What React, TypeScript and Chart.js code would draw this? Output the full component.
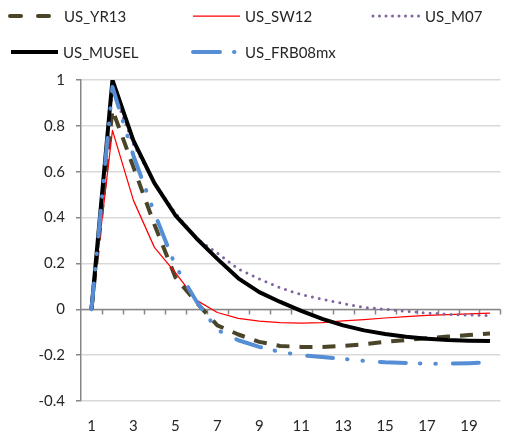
import React, { useEffect, useRef } from "react";
import { Chart, registerables } from "chart.js";

Chart.register(...registerables);

const categories = ["1","2","3","4","5","6","7","8","9","10","11","12","13","14","15","16","17","18","19","20"];
const usYR13 = [0, 0.87, 0.62, 0.37, 0.14, 0.03, -0.07, -0.11, -0.142, -0.16, -0.164, -0.164, -0.16, -0.152, -0.142, -0.134, -0.126, -0.119, -0.112, -0.106];
const usSW12 = [0, 0.78, 0.475, 0.27, 0.16, 0.04, -0.014, -0.04, -0.052, -0.058, -0.06, -0.058, -0.051, -0.045, -0.038, -0.032, -0.027, -0.023, -0.02, -0.017];
const usM07 = [0, 0.96, 0.72, 0.55, 0.42, 0.31, 0.245, 0.176, 0.132, 0.094, 0.064, 0.044, 0.025, 0.008, 0, -0.009, -0.016, -0.022, -0.025, -0.027];
const usMUSEL = [0, 1.0, 0.736, 0.55, 0.41, 0.31, 0.22, 0.135, 0.075, 0.032, -0.007, -0.042, -0.07, -0.092, -0.108, -0.12, -0.128, -0.134, -0.137, -0.138];
const usFRB08mx = [0, 0.97, 0.67, 0.42, 0.19, 0.035, -0.09, -0.135, -0.164, -0.186, -0.2, -0.208, -0.216, -0.225, -0.231, -0.234, -0.237, -0.237, -0.235, -0.232];
const yTicks = [1, 0.8, 0.6, 0.4, 0.2, 0, -0.2, -0.4];

const FONT = "Lato, 'Open Sans', sans-serif";

const zeroAxis = {
  id: "zeroAxis",
  beforeDatasetsDraw(chart: any) {
    const { ctx, chartArea, scales } = chart;
    const y0 = Math.round(scales.y.getPixelForValue(0)) + 0.5;
    ctx.save();
    ctx.strokeStyle = "#868686";
    ctx.lineWidth = 1.5;
    ctx.beginPath();
    ctx.moveTo(chartArea.left, y0);
    ctx.lineTo(chartArea.right, y0);
    const n = categories.length;
    const w = (chartArea.right - chartArea.left) / n;
    for (let i = 1; i <= n; i++) {
      const x = Math.round(chartArea.left + i * w) + 0.5;
      ctx.moveTo(x, y0);
      ctx.lineTo(x, y0 + 5);
    }
    ctx.stroke();
    ctx.restore();
  },
};

const legendItems = [
  { label: "US_YR13", x: 10, y: 16, w: 44, color: "#4a4528", width: 4, dash: "11 17", cap: "round", textX: 64 },
  { label: "US_SW12", x: 193, y: 16, w: 47, color: "#ff0000", width: 1.25, dash: "", cap: "butt", textX: 245 },
  { label: "US_M07", x: 373, y: 16, w: 46, color: "#8064a2", width: 3, dash: "0 6.5", cap: "round", textX: 425 },
  { label: "US_MUSEL", x: 11, y: 52, w: 47, color: "#000000", width: 4, dash: "", cap: "butt", textX: 63 },
  { label: "US_FRB08mx", x: 193, y: 52, w: 43, color: "#558ed5", width: 4, dash: "27 14 0.5 20", cap: "round", textX: 245 },
];

export default function App() {
  const ref = useRef<HTMLCanvasElement>(null);
  useEffect(() => {
    document.body.style.margin = "0";
    const ctx = ref.current!.getContext("2d")!;
    const chart = new Chart(ctx, {
      type: "line",
      data: {
        labels: categories,
        datasets: [
          { label: "US_YR13", data: usYR13, borderColor: "#4a4528", borderWidth: 4, borderDash: [13, 10], borderCapStyle: "butt", order: 5 },
          { label: "US_SW12", data: usSW12, borderColor: "#ff0000", borderWidth: 1.25, order: 4 },
          { label: "US_M07", data: usM07, borderColor: "#8064a2", borderWidth: 3, borderDash: [0, 7], borderCapStyle: "round", order: 3 },
          { label: "US_MUSEL", data: usMUSEL, borderColor: "#000000", borderWidth: 4, order: 2 },
          { label: "US_FRB08mx", data: usFRB08mx, borderColor: "#558ed5", borderWidth: 4, borderDash: [26, 14, 0.5, 15, 0.5, 17], borderCapStyle: "round", order: 1 },
        ].map((d) => ({ ...d, pointRadius: 0, fill: false, tension: 0, borderJoinStyle: "round" as const })),
      },
      options: {
        animation: false,
        responsive: false,
        maintainAspectRatio: false,
        layout: { padding: { top: 80, right: 1, bottom: 0, left: 0 } },
        plugins: { legend: { display: false }, tooltip: { enabled: false } },
        scales: {
          x: {
            type: "category",
            offset: true,
            grid: { display: false, drawTicks: false },
            border: { display: false },
            ticks: {
              autoSkip: false,
              maxRotation: 0,
              padding: 16,
              color: "#262626",
              font: { family: FONT, size: 15 },
              callback: (_v: any, i: number) => (i % 2 === 0 ? categories[i] : ""),
            },
            afterFit: (s: any) => { s.height = 34; },
          },
          y: {
            min: -0.4,
            max: 1,
            afterBuildTicks: (s: any) => { s.ticks = yTicks.map((v) => ({ value: v })); },
            grid: { color: "#d9d9d9", lineWidth: 1.5, tickLength: 5, tickColor: "#868686" },
            border: { display: true, color: "#868686", width: 1.5 },
            ticks: {
              padding: 11,
              color: "#262626",
              font: { family: FONT, size: 15 },
              callback: (v: any) => String(Math.round(Number(v) * 10) / 10),
            },
            afterFit: (s: any) => { s.width = 81; },
          },
        },
      },
      plugins: [zeroAxis],
    });
    return () => chart.destroy();
  }, []);

  return (
    <div style={{ position: "relative", width: 506, height: 435, background: "#fff" }}>
      <canvas ref={ref} width={506} height={435} style={{ position: "absolute", left: 0, top: 0 }} />
      {legendItems.map((it) => (
        <React.Fragment key={it.label}>
          <svg style={{ position: "absolute", left: it.x - 3, top: it.y - 5 }} width={it.w + 6} height={10}>
            <line x1={3} y1={5} x2={it.w + 3} y2={5} stroke={it.color} strokeWidth={it.width}
              strokeDasharray={it.dash || undefined} strokeLinecap={it.cap as any} />
          </svg>
          <div style={{ position: "absolute", left: it.textX, top: it.y - 10, fontFamily: FONT, fontSize: 15, lineHeight: "20px", color: "#262626", whiteSpace: "nowrap" }}>
            {it.label}
          </div>
        </React.Fragment>
      ))}
    </div>
  );
}
